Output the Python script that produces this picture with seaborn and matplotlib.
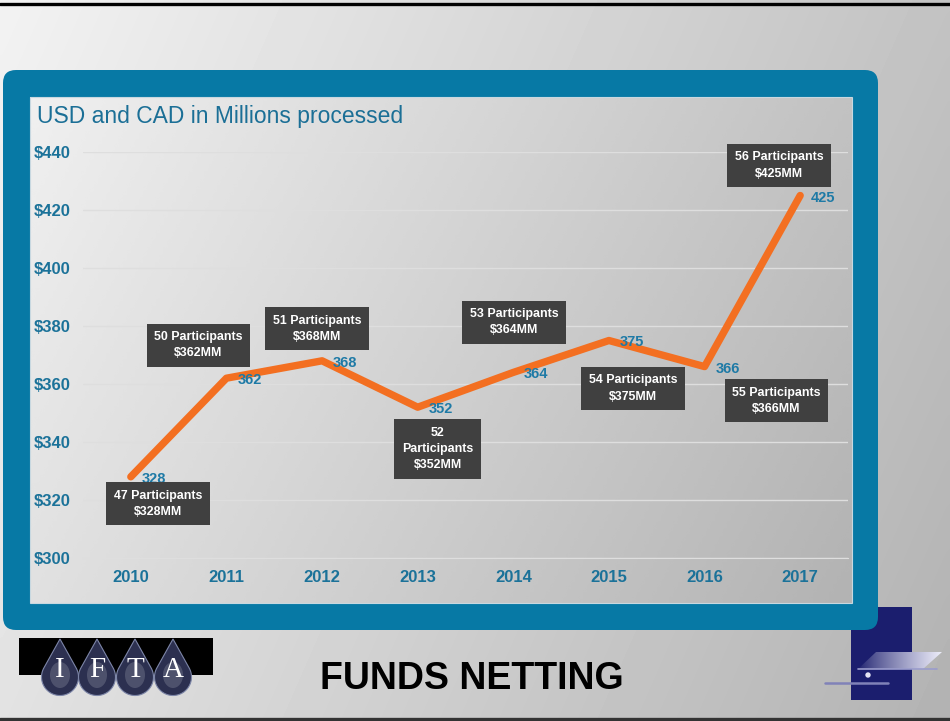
import matplotlib
matplotlib.use("Agg")
import matplotlib.pyplot as plt
import matplotlib.patches as mpatches
import numpy as np
import pandas as pd
import seaborn as sns

# chart data
years = ["2010", "2011", "2012", "2013", "2014", "2015", "2016", "2017"]
amounts = [328, 362, 368, 352, 364, 375, 366, 425]
participants = [47, 50, 51, 52, 53, 54, 55, 56]
y_ticks = [300, 320, 340, 360, 380, 400, 420, 440]
box_labels = [
    "47 Participants\n$328MM",
    "50 Participants\n$362MM",
    "51 Participants\n$368MM",
    "52\nParticipants\n$352MM",
    "53 Participants\n$364MM",
    "54 Participants\n$375MM",
    "55 Participants\n$366MM",
    "56 Participants\n$425MM",
]
# where each callout box sits relative to its point (pixels, x right / y up)
box_offsets = [(27, -27), (-28, 33), (-5, 32), (20, -42), (1, 50), (24, -48), (72, -34), (-21, 30)]

df = pd.DataFrame({"year": years, "amount": amounts, "participants": participants})

sns.set_style("white")
plt.rcParams["font.family"] = ["Liberation Sans", "DejaVu Sans"]

W, H = 950, 721
TEAL = "#0779a5"
LABEL = "#1b7299"

fig = plt.figure(figsize=(9.5, 7.21), dpi=100)

# slide background, drawn in pixel coordinates
bg = fig.add_axes([0, 0, 1, 1])
bg.axis("off")


def gradient(c0, c1, n=200):
    yy, xx = np.mgrid[0:1:n * 1j, 0:1:n * 1j]
    t = 0.75 * xx + 0.25 * yy
    return np.clip(c0 + (c1 - c0) * t, 0, 1)


bg.imshow(gradient(0.95, 0.70), cmap="gray", vmin=0, vmax=1, extent=(0, W, H, 0),
          aspect="auto", interpolation="bicubic", zorder=0)
bg.plot([0, W], [4, 4], color="black", lw=2.4, zorder=5)
bg.plot([0, W], [719, 719], color="#333333", lw=2.4, zorder=5)

# right-hand logo (behind the frame)
bg.add_patch(mpatches.Rectangle((851, 607), 61, 93, fc="#1b1e6e", ec="none", zorder=1))
para = mpatches.Polygon([(858, 669), (876, 652), (942, 652), (923, 669)], closed=True,
                        fc="none", ec="none", zorder=2)
bg.add_patch(para)
lav = np.linspace(0, 1, 100)[None, :, None]
c_start = np.array([0.11, 0.12, 0.43])
c_end = np.array([0.93, 0.93, 0.98])
lav_img = c_start + (c_end - c_start) * lav ** 0.8
lav_img = np.repeat(lav_img, 10, axis=0)
im = bg.imshow(lav_img, extent=(858, 942, 669, 652), aspect="auto", zorder=2)
im.set_clip_path(para)
bg.plot([858, 937], [669, 669], color="#9a9ccc", lw=1.2, zorder=3)
bg.plot([825, 888], [683, 683], color="#8082b8", lw=1.8, zorder=3)
bg.add_patch(mpatches.Circle((868, 675), 2.7, fc="#e4e4f4", ec="none", zorder=3))

# teal frame and inner chart panel
bg.add_patch(mpatches.FancyBboxPatch((3, 70), 875, 560, boxstyle="round,pad=0,rounding_size=13",
                                     fc=TEAL, ec="none", zorder=4))
bg.imshow(gradient(0.94, 0.70), cmap="gray", vmin=0, vmax=1, extent=(30, 852, 603, 97),
          aspect="auto", interpolation="bicubic", zorder=5)
bg.add_patch(mpatches.Rectangle((30, 97), 822, 506, fc="none", ec="#c8d8e0", lw=0.8, zorder=6))
bg.text(37, 116, "USD and CAD in Millions processed", fontsize=16.5, color="#1b6f96",
        va="center", ha="left", zorder=7)

# IFTA logo
bg.add_patch(mpatches.Rectangle((19, 638), 194, 37, fc="black", ec="none", zorder=4))
r, d, cy = 18.5, 38, 677
phi = np.arccos(r / d)
for cx, letter in zip([60, 97, 135, 173], ["I", "F", "T", "A"]):
    angles = np.linspace(phi, 2 * np.pi - phi, 60)
    pts = [(cx, cy - d)] + [(cx + r * np.sin(a), cy - r * np.cos(a)) for a in angles]
    bg.add_patch(mpatches.Polygon(pts, closed=True, fc="#2c3050", ec="#7d86a8", lw=0.8, zorder=5))
    bg.add_patch(mpatches.Ellipse((cx, cy - 2), 20, 26, fc="#6a6e84", ec="none", alpha=0.55, zorder=5))
    bg.text(cx, cy - 7, letter, fontsize=21, color="white", ha="center", va="center",
            family=["Liberation Serif", "DejaVu Serif"], zorder=6)

bg.text(472, 679, "FUNDS NETTING", fontsize=27, fontweight="bold", color="black",
        ha="center", va="center", zorder=6)

bg.set_xlim(0, W)
bg.set_ylim(H, 0)

# the line chart itself
ax = fig.add_axes([83 / W, (H - 558) / H, 765 / W, 406 / H])
ax.patch.set_alpha(0)
sns.lineplot(data=df, x="year", y="amount", ax=ax, color="#f36f21", linewidth=5.3,
             solid_capstyle="round", zorder=3)

ax.set_xlim(-0.5, len(years) - 0.5)
ax.set_ylim(300, 440)
ax.set_yticks(y_ticks)
ax.set_yticklabels([f"${t}" for t in y_ticks])
ax.set_xticks(np.arange(-0.5, len(years), 1), minor=True)
ax.set_xlabel("")
ax.set_ylabel("")
ax.yaxis.grid(True, color="#dedede", lw=1)
ax.set_axisbelow(True)
for side in ["top", "right", "left"]:
    ax.spines[side].set_visible(False)
ax.spines["bottom"].set_color("#dedede")
ax.tick_params(axis="both", which="major", length=0, labelsize=12, labelcolor=LABEL)
ax.tick_params(axis="x", which="major", pad=9)
ax.tick_params(axis="y", which="major", pad=9)
ax.tick_params(axis="x", which="minor", length=6, color="#dedede", direction="out")
for lab in ax.get_xticklabels() + ax.get_yticklabels():
    lab.set_fontweight("bold")

for i, v in enumerate(amounts):
    ax.annotate(str(v), (i, v), xytext=(23, -2), textcoords="offset pixels",
                ha="center", va="center", fontsize=10.5, fontweight="bold", color="#1e7aa6", zorder=4)
    ax.annotate(box_labels[i], (i, v), xytext=box_offsets[i], textcoords="offset pixels",
                ha="center", va="center", fontsize=8.9, fontweight="bold", color="white",
                linespacing=1.45, zorder=5,
                bbox=dict(boxstyle="square,pad=0.62", fc="#404040", ec="none"))

fig.savefig("out.png", dpi=100)
